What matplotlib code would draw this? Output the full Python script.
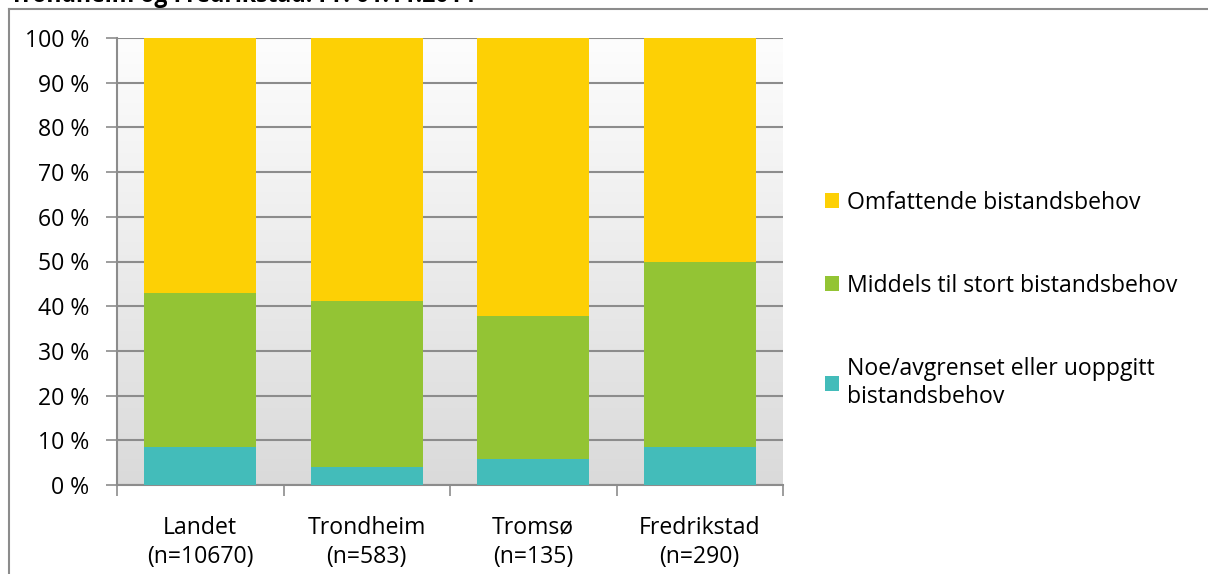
import numpy as np
import matplotlib.pyplot as plt
from matplotlib.colors import LinearSegmentedColormap
from matplotlib.lines import Line2D
from matplotlib.patches import Patch

plt.rcParams["font.family"] = ["Open Sans", "DejaVu Sans"]

categories = ["Landet\n(n=10670)", "Trondheim\n(n=583)", "Tromsø\n(n=135)", "Fredrikstad\n(n=290)"]
noe = [8.4, 4.0, 5.8, 8.6]
middels = [34.6, 37.2, 31.9, 41.4]
omfattende = [57.0, 58.8, 62.3, 50.0]
series_labels = ["Noe/avgrenset eller uoppgitt\nbistandsbehov",
                 "Middels til stort bistandsbehov",
                 "Omfattende bistandsbehov"]
colors = ["#43BCBA", "#93C434", "#FDD005"]
title = "Trondheim og Fredrikstad. Pr. 01.11.2014"

FS = 16.6
W, H = 1208, 574
fig = plt.figure(figsize=(W / 100, H / 100), dpi=100)
ax = fig.add_axes([117 / W, 1 - 485 / H, (783 - 117) / W, (485 - 38) / H])

# background gradient (white at top, light grey at bottom)
cmap = LinearSegmentedColormap.from_list("bg", ["#dadada", "#fdfdfd"])
grad = np.linspace(0, 1, 256).reshape(-1, 1)
ax.imshow(grad, extent=[0, 1, 0, 1], transform=ax.transAxes, aspect="auto",
          cmap=cmap, origin="lower", zorder=0)

x = np.arange(len(categories))
bottom = np.zeros(len(categories))
for vals, col in zip([noe, middels, omfattende], colors):
    ax.bar(x, vals, bottom=bottom, width=0.67, color=col, zorder=3)
    bottom += np.array(vals)

ax.set_xlim(-0.5, len(categories) - 0.5)
ax.set_ylim(0, 100)
ax.set_yticks(range(0, 101, 10))
ax.set_yticklabels([f"{v} %" for v in range(0, 101, 10)], fontsize=FS)
ax.yaxis.grid(True, color="#8c8c8c", linewidth=1.5, zorder=1)
ax.set_axisbelow(True)

ax.set_xticks(np.arange(-0.5, len(categories), 1.0))
ax.set_xticklabels([])
ax.set_xticks(x, minor=True)
ax.set_xticklabels(categories, minor=True, fontsize=FS, linespacing=1.33)
ax.tick_params(axis="x", which="minor", length=0, pad=22)
ax.tick_params(axis="x", which="major", length=8, width=1.2, color="#8c8c8c")
ax.tick_params(axis="y", length=8, width=1.2, color="#8c8c8c", pad=12)

for side in ["top", "right"]:
    ax.spines[side].set_visible(False)
for side in ["left", "bottom"]:
    ax.spines[side].set_color("#8c8c8c")
    ax.spines[side].set_linewidth(1.5)

handles = [Patch(facecolor=c, edgecolor="none") for c in reversed(colors)]
leg = fig.legend(handles, list(reversed(series_labels)), loc="upper left",
                 bbox_to_anchor=(825 / W, 1 - 191 / H), frameon=False, fontsize=FS,
                 handlelength=0.62, handleheight=0.62, handletextpad=0.35,
                 labelspacing=2.55, borderpad=0, borderaxespad=0)
for t in leg.get_texts():
    t.set_linespacing(1.25)

# outer chart frame (extends past right and bottom edges)
fig.add_artist(Line2D([8.5 / W, 8.5 / W], [-0.1, 1 - 9 / H], color="#8c8c8c",
                      linewidth=1.5, transform=fig.transFigure))
fig.add_artist(Line2D([8.5 / W, 1.1], [1 - 9 / H, 1 - 9 / H], color="#8c8c8c",
                      linewidth=1.5, transform=fig.transFigure))

fig.text(10 / W, 1 - 1.5 / H, title, fontsize=FS, fontweight="bold",
         va="baseline", ha="left")

fig.savefig("out.png", dpi=100)
